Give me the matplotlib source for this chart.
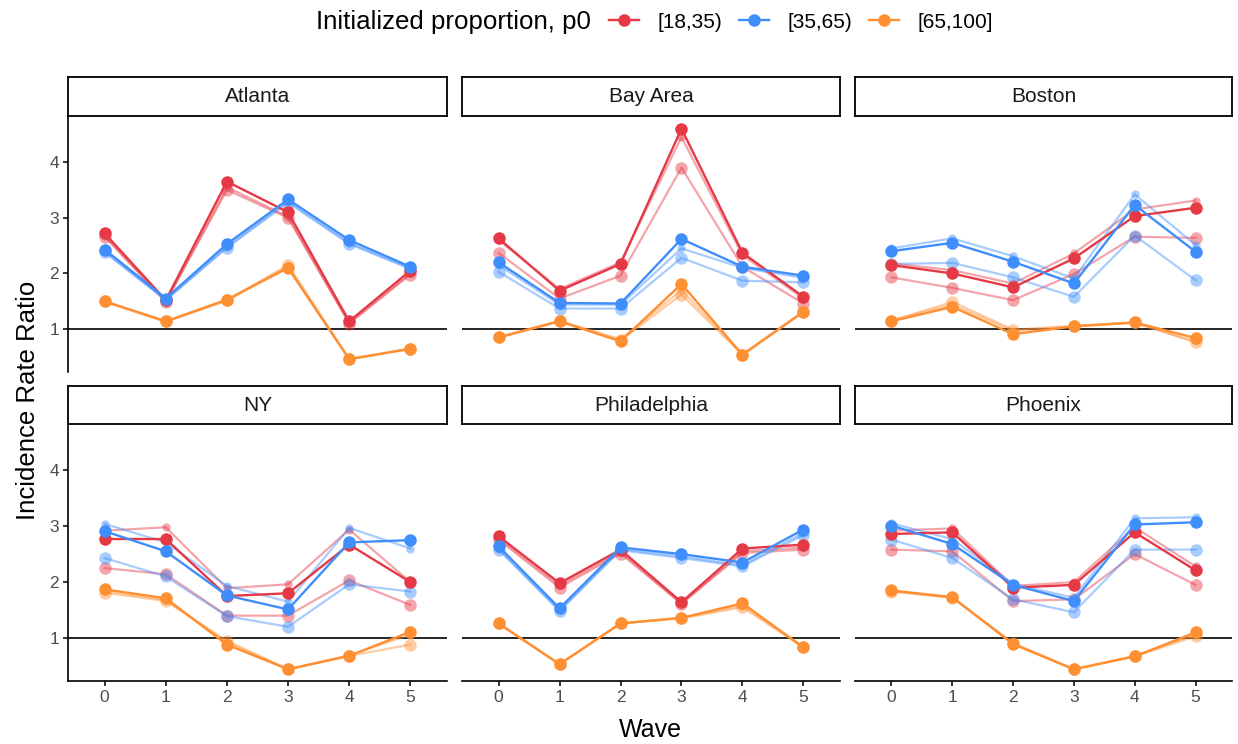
import matplotlib
matplotlib.use("Agg")
import matplotlib.pyplot as plt
from matplotlib.lines import Line2D

plt.rcParams['font.family'] = ['Liberation Sans', 'DejaVu Sans']

waves = [0, 1, 2, 3, 4, 5]
wave_labels = ["0", "1", "2", "3", "4", "5"]
cities = ["Atlanta", "Bay Area", "Boston", "NY", "Philadelphia", "Phoenix"]
groups = ["[18,35)", "[35,65)", "[65,100]"]

# each group: [main series, light series 1, light series 2]
atlanta_18_35 = [[2.72, 1.52, 3.65, 3.10, 1.14, 2.05],
                 [2.66, 1.49, 3.50, 3.00, 1.10, 1.98],
                 [2.68, 1.50, 3.55, 3.02, 1.12, 2.00]]
atlanta_35_65 = [[2.43, 1.55, 2.53, 3.33, 2.60, 2.12],
                 [2.38, 1.52, 2.46, 3.27, 2.53, 2.08],
                 [2.40, 1.53, 2.48, 3.30, 2.55, 2.10]]
atlanta_65_100 = [[1.50, 1.14, 1.53, 2.10, 0.46, 0.65],
                  [1.50, 1.14, 1.52, 2.15, 0.46, 0.65],
                  [1.49, 1.13, 1.51, 2.13, 0.46, 0.64]]

bay_18_35 = [[2.63, 1.69, 2.17, 4.60, 2.37, 1.58],
             [2.37, 1.55, 1.96, 3.90, 2.12, 1.46],
             [2.60, 1.72, 2.20, 4.45, 2.33, 1.55]]
bay_35_65 = [[2.20, 1.47, 1.46, 2.62, 2.12, 1.96],
             [2.03, 1.37, 1.37, 2.28, 1.87, 1.84],
             [2.15, 1.44, 1.44, 2.45, 2.10, 1.92]]
bay_65_100 = [[0.85, 1.14, 0.78, 1.81, 0.54, 1.31],
              [0.85, 1.14, 0.80, 1.62, 0.54, 1.31],
              [0.86, 1.15, 0.82, 1.70, 0.55, 1.32]]

boston_18_35 = [[2.15, 2.00, 1.75, 2.27, 3.03, 3.18],
                [1.93, 1.74, 1.52, 1.99, 2.66, 2.64],
                [2.18, 2.06, 1.82, 2.36, 3.15, 3.31]]
boston_35_65 = [[2.40, 2.55, 2.21, 1.82, 3.23, 2.39],
                [2.17, 2.19, 1.93, 1.58, 2.68, 1.88],
                [2.45, 2.63, 2.31, 1.91, 3.42, 2.51]]
boston_65_100 = [[1.14, 1.40, 0.91, 1.05, 1.12, 0.84],
                 [1.15, 1.49, 0.99, 1.06, 1.12, 0.76],
                 [1.16, 1.44, 0.97, 1.05, 1.11, 0.78]]

ny_18_35 = [[2.77, 2.77, 1.75, 1.80, 2.67, 2.00],
            [2.25, 2.14, 1.40, 1.40, 2.03, 1.59],
            [2.92, 2.98, 1.89, 1.96, 2.94, 2.00]]
ny_35_65 = [[2.91, 2.55, 1.76, 1.51, 2.71, 2.75],
            [2.43, 2.10, 1.39, 1.20, 1.96, 1.83],
            [3.04, 2.71, 1.93, 1.65, 2.97, 2.60]]
ny_65_100 = [[1.87, 1.71, 0.88, 0.44, 0.68, 1.11],
             [1.81, 1.66, 0.95, 0.44, 0.68, 0.88],
             [1.84, 1.68, 0.92, 0.44, 0.69, 1.06]]

phil_18_35 = [[2.82, 1.98, 2.58, 1.64, 2.60, 2.67],
              [2.76, 1.90, 2.51, 1.61, 2.52, 2.58],
              [2.79, 1.94, 2.54, 1.62, 2.55, 2.62]]
phil_35_65 = [[2.64, 1.53, 2.62, 2.50, 2.35, 2.94],
              [2.58, 1.48, 2.57, 2.43, 2.28, 2.84],
              [2.60, 1.50, 2.59, 2.46, 2.30, 2.88]]
phil_65_100 = [[1.26, 0.53, 1.26, 1.36, 1.62, 0.83],
               [1.26, 0.53, 1.26, 1.35, 1.55, 0.83],
               [1.26, 0.53, 1.26, 1.36, 1.58, 0.84]]

phoenix_18_35 = [[2.86, 2.89, 1.90, 1.95, 2.89, 2.21],
                 [2.58, 2.55, 1.66, 1.69, 2.50, 1.95],
                 [2.92, 2.96, 1.93, 2.00, 2.98, 2.28]]
phoenix_35_65 = [[3.01, 2.68, 1.95, 1.66, 3.03, 3.07],
                 [2.76, 2.43, 1.69, 1.46, 2.58, 2.58],
                 [3.05, 2.77, 1.97, 1.72, 3.14, 3.16]]
phoenix_65_100 = [[1.85, 1.73, 0.89, 0.44, 0.67, 1.10],
                  [1.83, 1.72, 0.91, 0.44, 0.67, 1.03],
                  [1.84, 1.72, 0.90, 0.44, 0.68, 1.06]]

city_data = {
    "Atlanta": [atlanta_18_35, atlanta_35_65, atlanta_65_100],
    "Bay Area": [bay_18_35, bay_35_65, bay_65_100],
    "Boston": [boston_18_35, boston_35_65, boston_65_100],
    "NY": [ny_18_35, ny_35_65, ny_65_100],
    "Philadelphia": [phil_18_35, phil_35_65, phil_65_100],
    "Phoenix": [phoenix_18_35, phoenix_35_65, phoenix_65_100],
}

colors = ["#E63946", "#3F8EFC", "#FF8F33"]

W, H = 1238, 744
fig = plt.figure(figsize=(W / 100, H / 100), dpi=100)

col_x = [(68, 447), (462, 840), (855, 1232)]
row_y = [(117, 372, 77, 116), (425, 681, 386, 424)]

ylim = (0.23, 4.81)
xlim = (-0.6, 5.6)
tick_color = "#4D4D4D"

for i, city in enumerate(cities):
    r, c = divmod(i, 3)
    x0, x1 = col_x[c]
    yt, yb, st, sb = row_y[r]
    ax = fig.add_axes([x0 / W, 1 - yb / H, (x1 - x0) / W, (yb - yt) / H])
    sax = fig.add_axes([x0 / W, 1 - sb / H, (x1 - x0) / W, (sb - st) / H])
    # strip
    sax.set_xticks([]); sax.set_yticks([])
    for sp in sax.spines.values():
        sp.set_linewidth(1.3); sp.set_color("black")
    sax.text(0.5, 0.5, city, ha="center", va="center", fontsize=15, color="#1A1A1A",
             transform=sax.transAxes)

    ax.axhline(1, color="black", lw=1.2, zorder=1)
    data = city_data[city]
    # light series first
    for g, series in enumerate(data):
        for k, ms in ((1, 9), (2, 6)):
            ax.plot(waves, series[k], color=colors[g], alpha=0.45, lw=1.6,
                    marker="o", ms=ms, markeredgewidth=0, zorder=2)
    for g, series in enumerate(data):
        ax.plot(waves, series[0], color=colors[g], alpha=1.0, lw=1.7,
                marker="o", ms=9, markeredgewidth=0, zorder=3)

    ax.set_xlim(*xlim)
    ax.set_ylim(*ylim)
    ax.set_yticks([1, 2, 3, 4])
    ax.set_xticks(waves)
    ax.set_xticklabels(wave_labels)
    for s in ["top", "right"]:
        ax.spines[s].set_visible(False)
    ax.spines["left"].set_linewidth(1.2)
    ax.spines["bottom"].set_linewidth(1.2)
    ax.tick_params(axis="both", colors="black", labelcolor=tick_color,
                   labelsize=12.5, length=3.5, width=1.1, pad=3)
    if c != 0:
        ax.spines["left"].set_visible(False)
        ax.tick_params(axis="y", left=False, labelleft=False)
    if r == 0:
        ax.spines["bottom"].set_visible(False)
        ax.tick_params(axis="x", bottom=False, labelbottom=False)

fig.text(650 / W, 1 - 730 / H, "Wave", ha="center", va="center", fontsize=18)
fig.text(28 / W, 1 - 400 / H, "Incidence Rate Ratio", ha="center", va="center",
         rotation=90, fontsize=18.5)

# legend
fig.text(316 / W, 1 - 22 / H, "Initialized proportion, p0", ha="left", va="center",
         fontsize=18.6)
handles = [Line2D([0], [0], color=colors[g], lw=1.7, marker="o", ms=9,
                  markeredgewidth=0) for g in range(3)]
fig.legend(handles, groups, loc="center left", bbox_to_anchor=(609 / W, 1 - 22 / H),
           ncol=3, frameon=False, fontsize=15, handlelength=1.44,
           handletextpad=0.87, columnspacing=0.82, borderpad=0, borderaxespad=0)

fig.savefig("out.png", dpi=100, facecolor="white")
